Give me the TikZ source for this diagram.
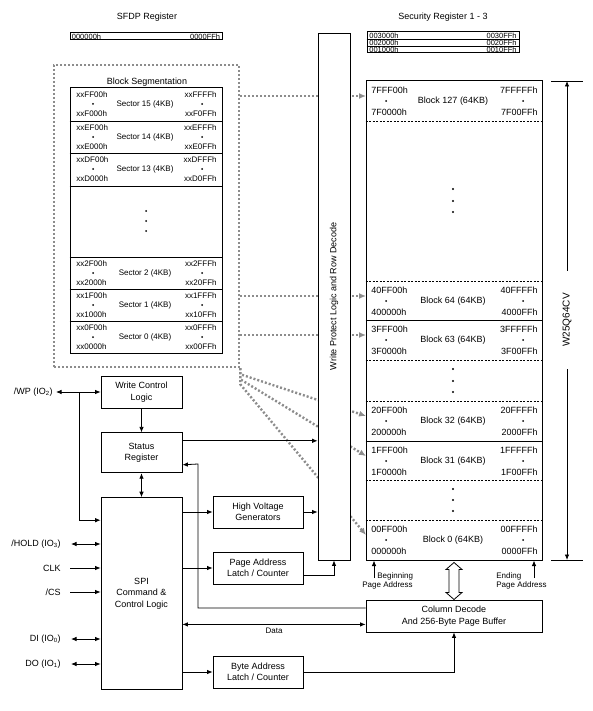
\documentclass[tikz,border=0pt]{standalone}
\usepackage{fontspec}
\setmainfont{Liberation Sans}
\usetikzlibrary{arrows.meta,positioning,calc}
\tikzstyle{blk} = [rectangle, draw, line width=0.8pt, text centered, align=center,
    font=\fontsize{9}{11.5}\selectfont, inner sep=1pt]
\tikzstyle{addr} = [inner sep=0pt, font=\fontsize{9}{10}\selectfont]
\tikzstyle{saddr} = [inner sep=0pt, font=\fontsize{8}{9}\selectfont]
\tikzstyle{regaddr} = [inner sep=0pt, font=\fontsize{7.5}{8}\selectfont]
\tikzstyle{pinlbl} = [inner sep=0pt, anchor=east, font=\fontsize{9}{10}\selectfont]
\tikzstyle{seglink} = [draw=black!45, line width=2.4pt, dash pattern=on 2pt off 2pt,
    -{Latex[length=7pt,width=6pt]}]
\tikzstyle{rowsep} = [line width=0.5pt, dash pattern=on 2pt off 1.5pt]

\begin{document}
\begin{tikzpicture}[x=1pt,y=-1pt,>={Latex[length=5.5pt,width=4.5pt]},line width=0.8pt]
  \useasboundingbox (0,0) rectangle (593,711);

  % registers on top
  \node[addr] (sfdptitle) at (147,17) {SFDP Register};
  \node[addr] (sectitle)  at (443,17) {Security Register 1 - 3};
  \node[draw, line width=1pt, minimum width=152pt, minimum height=7pt, inner sep=0pt] (sfdp) at (146,36.5) {};
  \node[regaddr, anchor=west] (sfdplo) at ([xshift=2pt]sfdp.west) {000000h};
  \node[regaddr, anchor=east] (sfdphi) at ([xshift=-2pt]sfdp.east) {0000FFh};
  \node[draw, line width=1pt, minimum width=152pt, minimum height=21pt, inner sep=0pt] (secreg) at (443,42.5) {};
  \draw[line width=0.6pt] (secreg.west |- 0,39.5) -- (secreg.east |- 0,39.5)
                          (secreg.west |- 0,46.5) -- (secreg.east |- 0,46.5);
  \foreach \i/\lo/\hi in {0/003000h/0030FFh, 1/002000h/0020FFh, 2/001000h/0010FFh}{
    \node[regaddr, anchor=west] (sec\i-lo) at (369,36+7*\i) {\lo};
    \node[regaddr, anchor=east] (sec\i-hi) at (517,36+7*\i) {\hi};
  }

  % block segmentation
  \node[draw=black!45, line width=2.4pt, dash pattern=on 2pt off 2pt, minimum width=185pt,
        minimum height=302pt, inner sep=0pt] (segbox) at (146.5,216) {};
  \node[addr] (segtitle) at (147,82) {Block Segmentation};
  \node[draw, line width=1pt, minimum width=152pt, minimum height=265pt, inner sep=0pt] (segin) at (146,220.5) {};
  \foreach \y in {121,153,186,257,289,321}
    \draw[line width=0.6pt] (segin.west |- 0,\y) -- (segin.east |- 0,\y);
  \foreach \t/\s/\lt/\lb/\rt/\rb in {88/15/xxFF00h/xxF000h/xxFFFFh/xxF0FFh,
      121/14/xxEF00h/xxE000h/xxEFFFh/xxE0FFh, 153/13/xxDF00h/xxD000h/xxDFFFh/xxD0FFh,
      257/2/xx2F00h/xx2000h/xx2FFFh/xx20FFh, 289/1/xx1F00h/xx1000h/xx1FFFh/xx10FFh,
      321/0/xx0F00h/xx0000h/xx0FFFh/xx00FFh}{
    \node[saddr, anchor=west] (s\s-lt) at (76,\t+7) {\lt};
    \node[saddr, anchor=west] (s\s-lb) at (76,\t+26) {\lb};
    \node[saddr] (s\s-nm) at (145,\t+16) {Sector \s\ (4KB)};
    \node[saddr, anchor=east] (s\s-rt) at (217,\t+7) {\rt};
    \node[saddr, anchor=east] (s\s-rb) at (217,\t+26) {\rb};
    \fill (93,\t+16) circle (1pt) (202,\t+16) circle (1pt);
  }
  \foreach \y in {211,221,231} \fill (146,\y) circle (1pt);

  % memory array
  \node[draw, line width=1pt, minimum width=176pt, minimum height=479pt, inner sep=0pt] (mem) at (454,320.5) {};
  \foreach \y in {121,281,360,401,480,520}
    \draw[rowsep] (mem.west |- 0,\y) -- (mem.east |- 0,\y);
  \foreach \y in {320,441}
    \draw[line width=0.6pt] (mem.west |- 0,\y) -- (mem.east |- 0,\y);
  \foreach \t/\n/\lt/\lb/\rt/\rb in {81/127/7FFF00h/7F0000h/7FFFFFh/7F00FFh,
      281/64/40FF00h/400000h/40FFFFh/4000FFh, 320/63/3FFF00h/3F0000h/3FFFFFh/3F00FFh,
      401/32/20FF00h/200000h/20FFFFh/2000FFh, 441/31/1FFF00h/1F0000h/1FFFFFh/1F00FFh,
      520/0/00FF00h/000000h/00FFFFh/0000FFh}{
    \node[addr, anchor=west] (b\n-lt) at (371,\t+9) {\lt};
    \node[addr, anchor=west] (b\n-lb) at (371,\t+31) {\lb};
    \node[addr] (b\n-nm) at (453,\t+20) {Block \n\ (64KB)};
    \node[addr, anchor=east] (b\n-rt) at (538,\t+9) {\rt};
    \node[addr, anchor=east] (b\n-rb) at (538,\t+31) {\rb};
    \fill (386,\t+20) circle (1pt) (523,\t+20) circle (1pt);
    \coordinate (in\n) at (366,\t+15);
  }
  \foreach \y in {189,201,212,369,381,392,489,500,511} \fill (453,\y) circle (1.1pt);

  % sectors to blocks
  \draw[seglink] (segbox.east |- in127) -- (in127);
  \draw[seglink] (segbox.east |- in64) -- (in64);
  \draw[seglink] (segbox.east |- in63) -- (in63);
  \draw[seglink] (segbox.south east) -- ++(0,6) -- (in32);
  \draw[seglink] (segbox.south east) -- ++(0,11) -- (in31);
  \draw[seglink] (segbox.south east) -- ++(0,16) -- (in0);

  \node[blk, fill=white, minimum width=32pt, minimum height=527pt, inner sep=0pt] (wp) at (334,296.5) {};
  \node[addr, rotate=90] (wptext) at (wp.center) {Write Protect Logic and Row Decode};

  % size marker
  \coordinate (dimtop) at (567,81);
  \coordinate (dimbot) at (567,560);
  \draw ([xshift=-16pt]dimtop) -- ([xshift=16pt]dimtop);
  \draw ([xshift=-16pt]dimbot) -- ([xshift=16pt]dimbot);
  \node[rotate=90, inner xsep=22pt, inner ysep=0pt, font=\fontsize{10}{12}\selectfont] (partno) at (567,320) {W25Q64CV};
  \draw[->] (partno.east) -- (dimtop);
  \draw[->] (partno.west) -- (dimbot);

  % control blocks
  \node[blk, minimum width=81pt, minimum height=32pt] (wcl) at (141.5,392) {Write Control\\Logic};
  \node[blk, minimum width=81pt, minimum height=40pt, below=24pt of wcl] (status) {Status\\Register};
  \node[blk, minimum width=81pt, minimum height=192pt, below=24pt of status] (spi) {SPI\\Command \&\\Control Logic};
  \node[blk, minimum width=90pt, minimum height=32pt] (hv)   at (258,512) {High Voltage\\Generators};
  \node[blk, minimum width=90pt, minimum height=32pt] (page) at (258,568) {Page Address\\Latch / Counter};
  \node[blk, minimum width=90pt, minimum height=32pt] (byte) at (258,672) {Byte Address\\Latch / Counter};
  \node[blk, minimum width=176pt, minimum height=32pt] (coldec) at (454,616) {Column Decode\\And 256-Byte Page Buffer};

  % pins
  \node[pinlbl] (wppin)   at (53,392) {/WP (IO\textsubscript{2})};
  \node[pinlbl] (holdpin) at (61,544) {/HOLD (IO\textsubscript{3})};
  \node[pinlbl] (clkpin)  at (61,568) {CLK};
  \node[pinlbl] (cspin)   at (61,592) {/CS};
  \node[pinlbl] (dipin)   at (61,639) {DI (IO\textsubscript{0})};
  \node[pinlbl] (dopin)   at (61,664) {DO (IO\textsubscript{1})};
  \draw[<->] ([xshift=3pt]wppin.east) -- (wcl.west);
  \coordinate (wpjoin) at (79,392);
  \draw[->] (wpjoin) |- ([yshift=-23pt]spi.north west);
  \draw[<->] ([xshift=10pt]holdpin.east) -- (spi.west |- holdpin.east);
  \draw[->] ([xshift=9pt]clkpin.east) -- (spi.west |- clkpin.east);
  \draw[->] ([xshift=9pt]cspin.east) -- (spi.west |- cspin.east);
  \draw[<->] ([xshift=10pt]dipin.east) -- (spi.west |- dipin.east);
  \draw[<->] ([xshift=10pt]dopin.east) -- (spi.west |- dopin.east);

  % connections
  \draw[->] (wcl) -- (status);
  \draw[<->] (status) -- (spi);
  \coordinate (stout) at ([yshift=12pt]status.east);
  \draw[->] (stout) -- (wp.west |- stout);
  \draw[->] ([yshift=8pt]coldec.west) -| (198,464) -- ([yshift=-12pt]status.east);
  \draw[->] (spi.east |- hv) -- (hv);
  \draw[->] (hv) -- (wp.west |- hv);
  \draw[->] (spi.east |- page) -- (page);
  \draw[->] ([yshift=-7pt]page.east) -| (wp.south);
  \coordinate (dataend) at ([yshift=8pt]coldec.south west);
  \draw[<->] (spi.east |- dataend) -- (dataend) node[midway, below=3pt, saddr] (datalbl) {Data};
  \draw[->] (spi.east |- byte) -- (byte);
  \draw[->] (byte.east) -| (coldec.south);

  % page address marks
  \node[saddr, anchor=north west, align=left] (begtxt) at (362,572) {\hspace*{15pt}Beginning\\Page Address};
  \node[saddr, anchor=north west, align=left] (endtxt) at (496,572) {Ending\\Page Address};
  \coordinate (begtail) at (374,578);
  \coordinate (endtail) at (534,578);
  \draw[->] (begtail) -- (begtail |- mem.south);
  \draw[->] (endtail) -- (endtail |- mem.south);
  \coordinate (dtop) at ([yshift=-2pt]mem.south);
  \draw[fill=white] (dtop) -- ++(8,7) -- ++(-3,0) -- ++(0,23) -- ++(3,0) -- ++(-8,7)
        -- ++(-8,-7) -- ++(3,0) -- ++(0,-23) -- ++(-3,0) -- cycle;
\end{tikzpicture}
\end{document}
